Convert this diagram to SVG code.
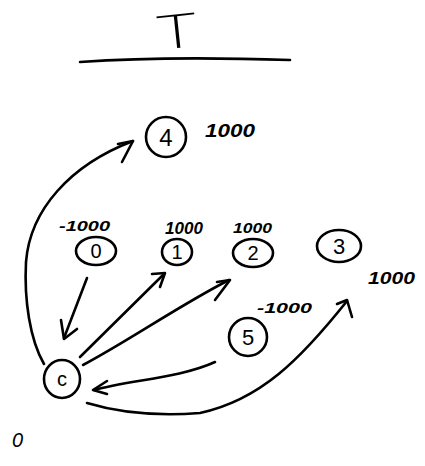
<svg xmlns="http://www.w3.org/2000/svg" width="425" height="466" viewBox="0 0 425 466">
  <defs>
    <style>
      .ink { fill: none; stroke: #000; stroke-width: 2.6; stroke-linecap: round; stroke-linejoin: round; }
      .node { fill: none; stroke: #000; stroke-width: 2.6; }
      .id { font-family: "Liberation Sans", Arial, sans-serif; font-size: 20px; text-anchor: middle; dominant-baseline: central; fill: #000; }
      .val { font-family: "Liberation Sans", Arial, sans-serif; font-size: 15px; font-style: italic; font-weight: bold; fill: #000; }
      .title { font-family: "DejaVu Sans", "Liberation Sans", sans-serif; font-size: 46px; font-weight: 200; text-anchor: middle; fill: #000; }
    </style>
  </defs>
  <rect width="425" height="466" fill="#fff"/>

  <!-- heading -->
  <g id="title">
    <text class="title" x="177" y="48" transform="rotate(-6 177 30) translate(177,0) scale(1.45,1) translate(-177,0)">T</text>
    <path class="ink" d="M80,62 C150,57 230,58 290,60"/>
  </g>

  <!-- connectors -->
  <g id="edges">
    <!-- c to 4 -->
    <path class="ink" d="M44,364 C30,340 24,300 26,262 C30,210 70,165 133,141"/>
    <path class="ink" d="M118,144 L133,141 L122,162"/>
    <!-- 0 to c -->
    <path class="ink" d="M87,278 L64,338"/>
    <path class="ink" d="M61,320 L64,339 L77,329"/>
    <!-- c to 1 -->
    <path class="ink" d="M80,357 L164,274"/>
    <path class="ink" d="M152,274 L165,273 L160,287"/>
    <!-- c to 2 -->
    <path class="ink" d="M83,365 C130,340 180,305 229,280"/>
    <path class="ink" d="M217,282 L230,280 L215,300"/>
    <!-- 5 to c -->
    <path class="ink" d="M215,362 C180,378 130,380 94,390"/>
    <path class="ink" d="M107,381 L93,390 L107,394"/>
    <!-- c to 3 -->
    <path class="ink" d="M87,403 C120,413 160,416 200,413 C260,400 300,360 347,301"/>
    <path class="ink" d="M337,304 L347,300 L352,317"/>
  </g>

  <!-- nodes -->
  <g id="n4">
    <ellipse class="node" cx="166" cy="137" rx="20" ry="20"/>
    <text class="id" x="166" y="137" style="font-size:24px">4</text>
    <text class="val" x="205" y="137" style="font-size:18px" textLength="50" lengthAdjust="spacingAndGlyphs">1000</text>
  </g>
  <g id="n0">
    <ellipse class="node" cx="96" cy="251" rx="20" ry="14"/>
    <text class="id" x="96" y="251">0</text>
    <text class="val" x="59" y="231" textLength="51" lengthAdjust="spacingAndGlyphs">-1000</text>
  </g>
  <g id="n1">
    <ellipse class="node" cx="177" cy="252" rx="15" ry="13"/>
    <text class="id" x="177" y="252">1</text>
    <text class="val" x="165" y="234" style="font-size:17px" textLength="38" lengthAdjust="spacingAndGlyphs">1000</text>
  </g>
  <g id="n2">
    <ellipse class="node" cx="253" cy="253" rx="20" ry="14"/>
    <text class="id" x="253" y="253">2</text>
    <text class="val" x="233" y="233" textLength="39" lengthAdjust="spacingAndGlyphs">1000</text>
  </g>
  <g id="n3">
    <ellipse class="node" cx="339" cy="246" rx="22" ry="16"/>
    <text class="id" x="339" y="246" style="font-size:22px">3</text>
    <text class="val" x="368" y="284" style="font-size:16px" textLength="47" lengthAdjust="spacingAndGlyphs">1000</text>
  </g>
  <g id="n5">
    <ellipse class="node" cx="248" cy="337" rx="19" ry="19"/>
    <text class="id" x="248" y="337" style="font-size:22px">5</text>
    <text class="val" x="257" y="313" textLength="55" lengthAdjust="spacingAndGlyphs">-1000</text>
  </g>
  <g id="nc">
    <ellipse class="node" cx="62" cy="379" rx="18" ry="19"/>
    <text class="id" x="62" y="379">c</text>
    <text class="val" x="12" y="447" style="font-size:20px;font-weight:normal">0</text>
  </g>
</svg>
